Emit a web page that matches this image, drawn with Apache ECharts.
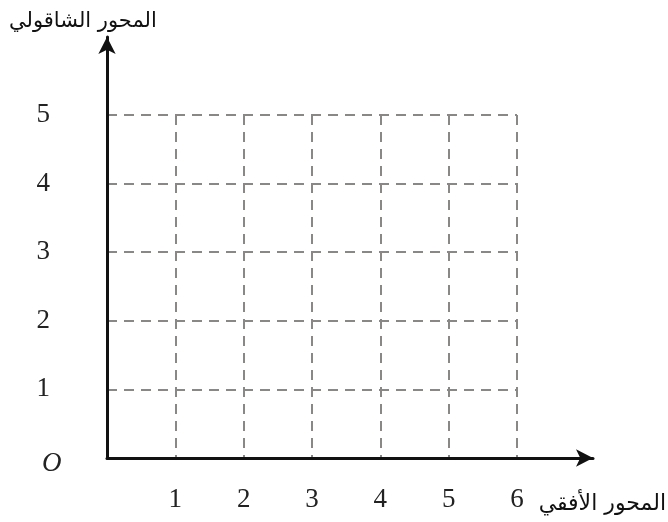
<!DOCTYPE html>
<html>
<head>
<meta charset="utf-8">
<script src="https://cdn.jsdelivr.net/npm/echarts@6/dist/echarts.min.js"></script>
<style>
    html, body {margin: 0; padding: 0; background: #fff;}
    #char1 {width: 668px; height: 522px;}
</style>
</head>
<body>
<div id="char1"></div>
<script>
// 刻度
var xTicks = [0, 1, 2, 3, 4, 5, 6];
var yTicks = [0, 1, 2, 3, 4, 5];
var xName = 'المحور الأفقي';
var yName = 'المحور الشاقولي';
var originName = 'O';

var numFont = 'Liberation Serif';
var arFont = 'DejaVu Sans';

function char1() {
    var myChart = echarts.init(document.getElementById('char1'));

    var dash = {color: '#8a8886', width: 2, type: [10, 7]};

    option = {
        backgroundColor: '#fff',
        animation: false,
        grid: [
            // 虚线网格
            {left: 107, top: 115, width: 410, height: 343},
            // 带箭头的坐标轴
            {left: 107, top: 37, right: 75, bottom: 64}
        ],
        xAxis: [
            {
                type: 'value', gridIndex: 0,
                min: xTicks[0], max: xTicks[xTicks.length - 1], interval: 1,
                axisLine: {show: false},
                axisTick: {show: false},
                axisLabel: {
                    margin: 28,
                    fontFamily: numFont, fontSize: 27, color: '#222',
                    formatter: function (v) { return v === 0 ? '' : v; }
                },
                splitLine: {show: true, lineStyle: dash}
            },
            {
                type: 'value', gridIndex: 1, min: 0, max: 1, z: 5,
                axisLine: {show: true, onZero: false, symbol: ['none', 'arrow'], symbolSize: [13, 17],
                    lineStyle: {color: '#111', width: 3}},
                axisTick: {show: false}, axisLabel: {show: false}, splitLine: {show: false}
            }
        ],
        yAxis: [
            {
                type: 'value', gridIndex: 0,
                min: yTicks[0], max: yTicks[yTicks.length - 1], interval: 1,
                axisLine: {show: false},
                axisTick: {show: false},
                axisLabel: {
                    margin: 57,
                    padding: [5, 0, 0, 0],
                    fontFamily: numFont, fontSize: 27, color: '#222',
                    formatter: function (v) { return v === 0 ? '' : v; }
                },
                splitLine: {show: true, lineStyle: dash}
            },
            {
                type: 'value', gridIndex: 1, min: 0, max: 1, z: 5,
                axisLine: {show: true, onZero: false, symbol: ['none', 'arrow'], symbolSize: [13, 17],
                    lineStyle: {color: '#111', width: 3}},
                axisTick: {show: false}, axisLabel: {show: false}, splitLine: {show: false}
            }
        ],
        graphic: [
            {type: 'text', left: 9, top: 11, style: {text: yName, font: '21px "' + arFont + '"', fill: '#111'}},
            {type: 'text', right: 2, top: 493, style: {text: xName, font: '22px "' + arFont + '"', fill: '#111'}},
            {type: 'text', left: 42, top: 450, style: {text: originName, font: 'italic 27px "' + numFont + '"', fill: '#222'}}
        ],
        series: [
            {type: 'line', xAxisIndex: 0, yAxisIndex: 0, data: []},
            {type: 'line', xAxisIndex: 1, yAxisIndex: 1, data: []}
        ]
    };

    myChart.setOption(option);
    window.addEventListener('resize', function () {
        myChart.resize();
    })
}

char1();
</script>
</body>
</html>
